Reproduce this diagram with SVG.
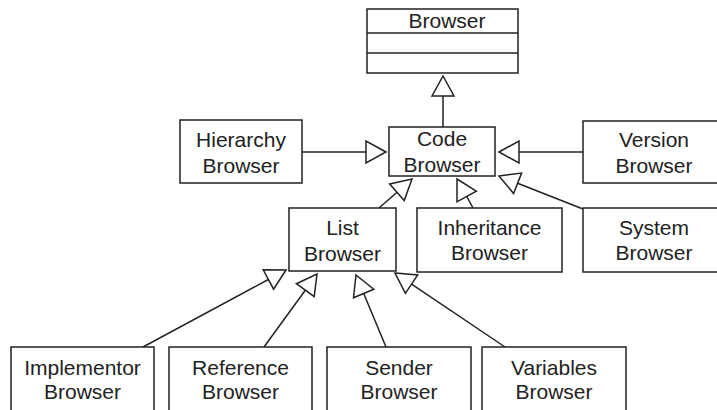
<svg xmlns="http://www.w3.org/2000/svg" width="717" height="410" viewBox="0 0 717 410">
<style>
.box{fill:#fff;stroke:#222;stroke-width:1.5}
.t{font-family:"Liberation Sans",Arial,sans-serif;font-size:21px;fill:#222;text-anchor:middle}
.ln{stroke:#222;stroke-width:1.5;fill:none}
.hd{fill:#fff;stroke:#222;stroke-width:1.5;stroke-linejoin:miter}
</style>
<rect width="717" height="410" fill="#fff"/>
<g id="connectors">
<line class="ln" x1="443" y1="127" x2="443" y2="96"/>
<polygon class="hd" points="443,76 454,96 432,96"/>
<line class="ln" x1="302" y1="152" x2="366" y2="152"/>
<polygon class="hd" points="386,152 366,141 366,163"/>
<line class="ln" x1="583" y1="152" x2="519" y2="152"/>
<polygon class="hd" points="499,152 519,141 519,163"/>
<line class="ln" x1="583" y1="209" x2="517.6" y2="183.3"/>
<polygon class="hd" points="499,176 521.6,173.1 513.6,193.5"/>
<line class="ln" x1="473" y1="208" x2="466.7" y2="196.5"/>
<polygon class="hd" points="457,179 476.3,191.2 457,201.8"/>
<line class="ln" x1="379" y1="208" x2="397" y2="192.2"/>
<polygon class="hd" points="412,179 404.2,200.5 389.7,183.9"/>
<line class="ln" x1="143" y1="347" x2="268.4" y2="279.5"/>
<polygon class="hd" points="286,270 273.6,289.2 263.2,269.8"/>
<line class="ln" x1="264" y1="347" x2="305.3" y2="290.2"/>
<polygon class="hd" points="317,274 314.2,296.7 296.4,283.7"/>
<line class="ln" x1="386" y1="347" x2="363.7" y2="293.5"/>
<polygon class="hd" points="356,275 373.8,289.2 353.5,297.7"/>
<line class="ln" x1="505" y1="347" x2="411.6" y2="284.2"/>
<polygon class="hd" points="395,273 417.7,275 405.4,293.3"/>
</g>
<g id="browser">
<rect class="box" x="367" y="9" width="151" height="64"/>
<line class="ln" x1="367" y1="33" x2="518" y2="33"/>
<line class="ln" x1="367" y1="53" x2="518" y2="53"/>
<text class="t" x="447" y="28">Browser</text>
</g>
<g id="code">
<rect class="box" x="389" y="127" width="106" height="49"/>
<text class="t" x="442" y="146">Code</text>
<text class="t" x="442" y="172">Browser</text>
</g>
<g id="hierarchy">
<rect class="box" x="180" y="120" width="122" height="63"/>
<text class="t" x="241" y="147">Hierarchy</text>
<text class="t" x="241" y="173">Browser</text>
</g>
<g id="version">
<rect class="box" x="583" y="121" width="142" height="62"/>
<text class="t" x="654" y="147">Version</text>
<text class="t" x="654" y="173">Browser</text>
</g>
<g id="list">
<rect class="box" x="289" y="208" width="107" height="63"/>
<text class="t" x="342.5" y="235">List</text>
<text class="t" x="342.5" y="261">Browser</text>
</g>
<g id="inheritance">
<rect class="box" x="417" y="208" width="145" height="64"/>
<text class="t" x="489.5" y="235">Inheritance</text>
<text class="t" x="489.5" y="260">Browser</text>
</g>
<g id="system">
<rect class="box" x="583" y="208" width="142" height="64"/>
<text class="t" x="654" y="235">System</text>
<text class="t" x="654" y="260">Browser</text>
</g>
<g id="implementor">
<rect class="box" x="11" y="347" width="143" height="70"/>
<text class="t" x="82.5" y="375">Implementor</text>
<text class="t" x="82.5" y="399">Browser</text>
</g>
<g id="reference">
<rect class="box" x="169" y="347" width="143" height="70"/>
<text class="t" x="240.5" y="375">Reference</text>
<text class="t" x="240.5" y="399">Browser</text>
</g>
<g id="sender">
<rect class="box" x="327" y="347" width="144" height="70"/>
<text class="t" x="399" y="375">Sender</text>
<text class="t" x="399" y="399">Browser</text>
</g>
<g id="variables">
<rect class="box" x="482" y="347" width="144" height="70"/>
<text class="t" x="554" y="375">Variables</text>
<text class="t" x="554" y="399">Browser</text>
</g>
</svg>
